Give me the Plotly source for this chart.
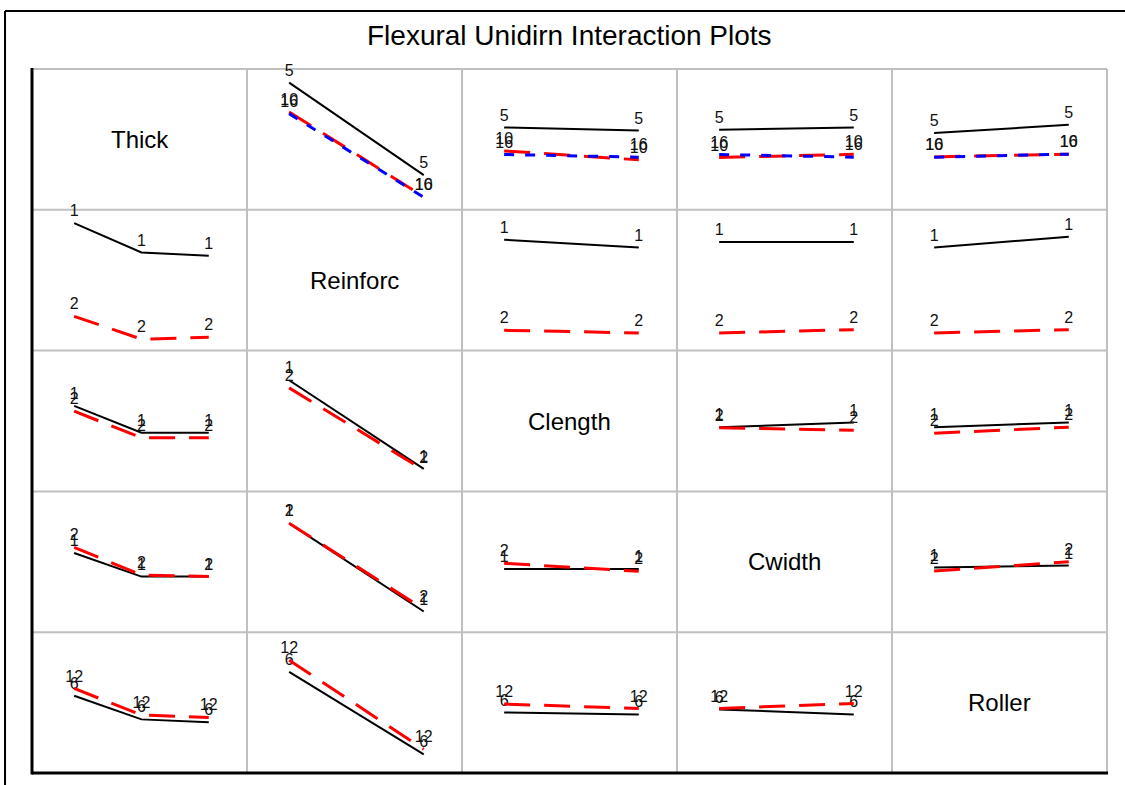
import plotly.graph_objects as go
from plotly.subplots import make_subplots

# ---------------- data ----------------
factors = ["Thick", "Reinforc", "Clength", "Cwidth", "Roller"]
thick_levels = ["5", "10", "16"]
reinforc_levels = ["1", "2"]
clength_levels = ["1", "2"]
cwidth_levels = ["1", "2"]
roller_levels = ["6", "12"]

# Mean flexural response; rows = levels of the line factor (row), cols = levels of the x factor (column)
thick_x_reinforc = [[592.6, 407.4], [534.0, 364.0], [530.6, 363.0]]
thick_x_clength = [[503.0, 497.0], [456.0, 438.0], [448.8, 443.4]]
thick_x_cwidth = [[498.2, 503.0], [442.8, 449.2], [448.8, 443.4]]
thick_x_roller = [[491.6, 508.4], [444.0, 449.4], [443.4, 449.4]]

reinforc_x_thick = [[593.4, 534.6, 528.0], [406.6, 361.0, 364.6]]
reinforc_x_clength = [[560.0, 544.6], [378.6, 373.4]]
reinforc_x_cwidth = [[555.4, 555.4], [373.4, 380.0]]
reinforc_x_roller = [[544.6, 566.0], [373.4, 380.0]]

clength_x_thick = [[509.4, 455.4, 455.4], [498.6, 445.4, 445.4]]
clength_x_reinforc = [[560.6, 383.0], [545.4, 380.6]]
clength_x_cwidth = [[466.6, 476.0], [465.4, 460.6]]
clength_x_roller = [[466.6, 476.0], [454.6, 466.6]]

cwidth_x_thick = [[496.6, 449.4, 449.4], [508.0, 452.6, 449.4]]
cwidth_x_reinforc = [[556.0, 379.4], [556.0, 384.0]]
cwidth_x_clength = [[464.6, 464.6], [476.0, 460.0]]
cwidth_x_roller = [[467.4, 471.4], [460.6, 479.0]]

roller_x_thick = [[492.6, 445.4, 439.4], [507.4, 454.0, 449.4]]
roller_x_reinforc = [[540.6, 375.4], [564.0, 385.4]]
roller_x_clength = [[459.4, 455.4], [476.0, 467.4]]
roller_x_cwidth = [[465.4, 455.4], [467.4, 477.4]]

# ---------------- assembly ----------------
levels = [thick_levels, reinforc_levels, clength_levels, cwidth_levels, roller_levels]
cells = {
    (0, 1): thick_x_reinforc, (0, 2): thick_x_clength, (0, 3): thick_x_cwidth, (0, 4): thick_x_roller,
    (1, 0): reinforc_x_thick, (1, 2): reinforc_x_clength, (1, 3): reinforc_x_cwidth, (1, 4): reinforc_x_roller,
    (2, 0): clength_x_thick, (2, 1): clength_x_reinforc, (2, 3): clength_x_cwidth, (2, 4): clength_x_roller,
    (3, 0): cwidth_x_thick, (3, 1): cwidth_x_reinforc, (3, 2): cwidth_x_clength, (3, 4): cwidth_x_roller,
    (4, 0): roller_x_thick, (4, 1): roller_x_reinforc, (4, 2): roller_x_clength, (4, 3): roller_x_cwidth,
}

colors = ["black", "red", "blue"]
dashes = ["solid", "26px,14px", "10px,11px"]
widths = [2, 3, 3]
FONT = "Liberation Sans, Arial, sans-serif"
GRID = "#c0c0c0"

fig = make_subplots(rows=5, cols=5, horizontal_spacing=0, vertical_spacing=0)

for (r, c), table in cells.items():
    nx = len(levels[c])
    xs = [k / (nx - 1) for k in range(nx)]
    for s, vals in enumerate(table):
        lab = levels[r][s]
        fig.add_trace(
            go.Scatter(
                x=xs, y=vals, mode="lines+markers+text",
                text=[lab] * nx, textposition="top center",
                textfont=dict(family=FONT, size=16, color="#111111"),
                marker=dict(size=3, color="rgba(0,0,0,0)"),
                line=dict(color=colors[s], dash=dashes[s], width=widths[s]),
                cliponaxis=False, hoverinfo="skip", showlegend=False,
            ),
            row=r + 1, col=c + 1,
        )

fig.update_xaxes(range=[-0.313, 1.284], showticklabels=False, ticks="", showgrid=False,
                 zeroline=False, showline=False, fixedrange=True)
fig.update_yaxes(range=[338, 620], showticklabels=False, ticks="", showgrid=False,
                 zeroline=False, showline=False, fixedrange=True)

annotations = []
for i, name in enumerate(factors):
    xd = fig.layout[f"xaxis{'' if i * 6 == 0 else i * 6 + 1}"].domain
    yd = fig.layout[f"yaxis{'' if i * 6 == 0 else i * 6 + 1}"].domain
    annotations.append(dict(
        text=name, xref="paper", yref="paper",
        x=(xd[0] + xd[1]) / 2, y=(yd[0] + yd[1]) / 2,
        xanchor="center", yanchor="middle", showarrow=False,
        font=dict(family=FONT, size=24, color="black"),
    ))
annotations.append(dict(
    text="Flexural Unidirn Interaction Plots", xref="paper", yref="paper",
    x=0.5, y=1.048, xanchor="center", yanchor="middle", showarrow=False,
    font=dict(family=FONT, size=28, color="black"),
))

shapes = []
for k in range(6):
    shapes.append(dict(type="line", xref="paper", yref="paper", x0=k / 5, x1=k / 5, y0=0, y1=1,
                       line=dict(color=GRID, width=2), layer="below"))
    shapes.append(dict(type="line", xref="paper", yref="paper", x0=0, x1=1, y0=k / 5, y1=k / 5,
                       line=dict(color=GRID, width=2), layer="below"))
shapes += [
    dict(type="line", xref="paper", yref="paper", x0=-0.0251, y0=1.0824, x1=1.03, y1=1.0824,
         line=dict(color="black", width=2), layer="above"),
    dict(type="line", xref="paper", yref="paper", x0=-0.0251, y0=1.0824, x1=-0.0251, y1=-0.03,
         line=dict(color="black", width=2), layer="above"),
    dict(type="line", xref="paper", yref="paper", x0=0, y0=-0.002, x1=0, y1=1.0014,
         line=dict(color="black", width=3), layer="above"),
    dict(type="line", xref="paper", yref="paper", x0=0, y0=0, x1=1.001, y1=0,
         line=dict(color="black", width=3), layer="above"),
]

fig.update_layout(
    width=1125, height=785,
    margin=dict(l=32, r=18, t=69, b=12),
    paper_bgcolor="white", plot_bgcolor="white",
    showlegend=False, annotations=annotations, shapes=shapes,
    font=dict(family=FONT),
)

fig.write_html("out.html", config={"displayModeBar": False},
               post_script="document.body.style.margin='0px';document.body.style.overflow='hidden';")
